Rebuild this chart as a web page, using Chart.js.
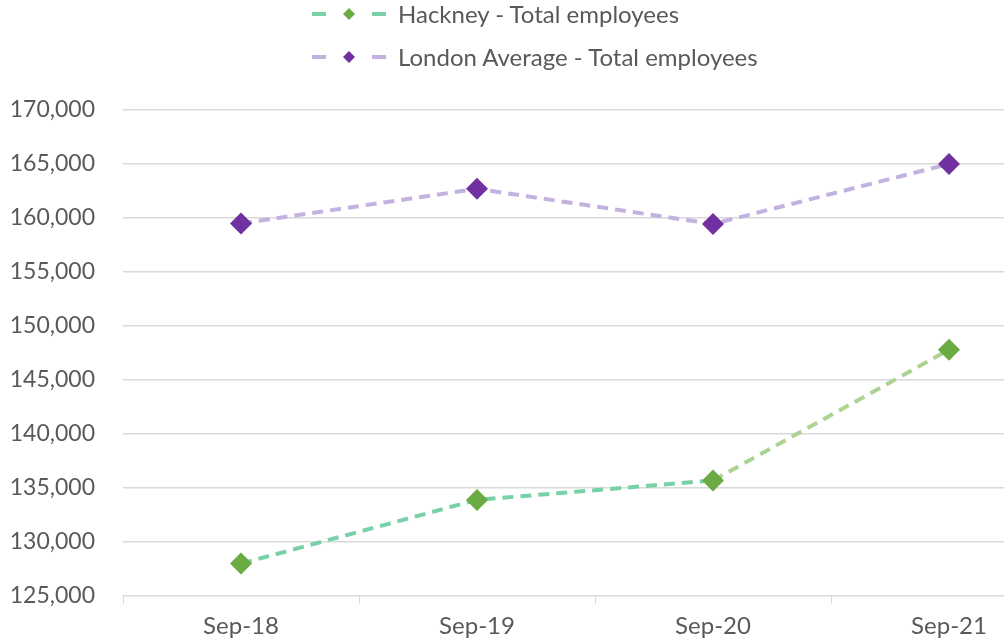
<!DOCTYPE html>
<html>
<head>
<meta charset="utf-8">
<script src="https://cdn.jsdelivr.net/npm/chart.js@4/dist/chart.umd.min.js"></script>
<style>
  html, body { margin: 0; padding: 0; background: #fff; overflow: hidden; }
  #wrap { position: relative; width: 1004px; height: 644px; overflow: hidden; }
  #chart-box { position: absolute; left: 0; top: 0; width: 1078px; height: 644px; }
  #legend { position: absolute; left: 312px; top: -8px; font-family: Lato, sans-serif; font-size: 24px; color: #595959; }
  .leg-row { display: flex; align-items: center; height: 43px; }
  .leg-row svg { margin-right: 12px; }
</style>
</head>
<body>
<div id="wrap">
  <div id="chart-box"><canvas id="employees-chart"></canvas></div>
  <div id="legend"></div>
</div>
<script>
// Data
const categories = ['Sep-18', 'Sep-19', 'Sep-20', 'Sep-21'];
const hackneyEmployees = [128000, 133900, 135700, 147800];
const londonEmployees = [159500, 162700, 159450, 165000];
const yTicks = [125000, 130000, 135000, 140000, 145000, 150000, 155000, 160000, 165000, 170000];

const seriesStyles = [
    { label: 'Hackney - Total employees', line: '#79d1a8', lineLate: '#acd394', marker: '#6aab44' },
    { label: 'London Average - Total employees', line: '#c3b2e0', lineLate: '#c3b2e0', marker: '#7030a0' }
];

// Build the two-row legend by hand (Chart.js would put both items on one row)
const legend = document.getElementById('legend');
seriesStyles.forEach(s => {
    const row = document.createElement('div');
    row.className = 'leg-row';
    row.innerHTML =
        `<svg width="74" height="14">
            <line x1="0" y1="7" x2="14" y2="7" stroke="${s.line}" stroke-width="4"/>
            <line x1="60" y1="7" x2="74" y2="7" stroke="${s.line}" stroke-width="4"/>
            <polygon points="37,1 43,7 37,13 31,7" fill="${s.marker}"/>
         </svg><span>${s.label}</span>`;
    legend.appendChild(row);
});

const makeDataset = (style, data) => ({
    label: style.label,
    data: data,
    borderColor: style.line,
    borderWidth: 4,
    borderDash: [11, 7],
    segment: {
        borderColor: ctx => ctx.p0DataIndex >= 2 ? style.lineLate : style.line
    },
    pointStyle: 'rectRot',
    pointRadius: 11,
    pointHoverRadius: 11,
    pointBackgroundColor: style.marker,
    pointBorderColor: style.marker,
    pointBorderWidth: 0,
    fill: false,
    tension: 0
});

const ctx = document.getElementById('employees-chart').getContext('2d');
new Chart(ctx, {
    type: 'line',
    data: {
        labels: categories,
        datasets: [
            makeDataset(seriesStyles[1], londonEmployees),
            makeDataset(seriesStyles[0], hackneyEmployees)
        ]
    },
    options: {
        responsive: true,
        maintainAspectRatio: false,
        animation: false,
        layout: { padding: { top: 110, right: 3, left: 0, bottom: 0 } },
        plugins: {
            legend: { display: false },
            tooltip: { enabled: false }
        },
        scales: {
            x: {
                offset: true,
                grid: { offset: true, drawOnChartArea: false, drawTicks: true, tickLength: 8, color: '#d9d9d9' },
                border: { display: false },
                ticks: { color: '#595959', font: { family: 'Lato', size: 24 }, padding: 8 },
                afterFit: scale => { scale.height = 48; }
            },
            y: {
                min: 125000,
                max: 170000,
                afterBuildTicks: scale => { scale.ticks = yTicks.map(v => ({ value: v })); },
                grid: { color: '#d9d9d9', lineWidth: 1.5, drawTicks: false },
                border: { display: false },
                ticks: {
                    color: '#595959',
                    font: { family: 'Lato', size: 23 },
                    padding: 28,
                    callback: value => value.toLocaleString('en-GB')
                },
                afterFit: scale => { scale.width = 123; }
            }
        }
    }
});
</script>
</body>
</html>
